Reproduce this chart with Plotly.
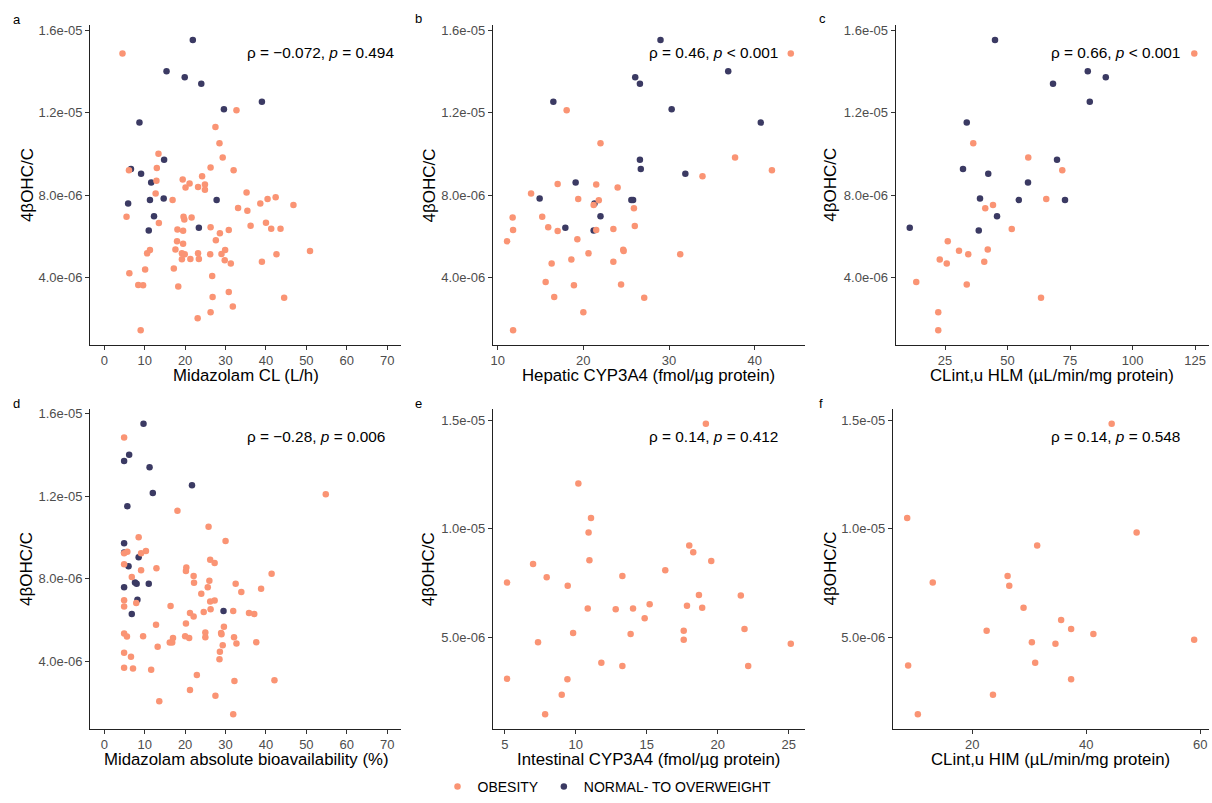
import plotly.graph_objects as go

# ---------------- DATA (values in units; y values are ×1e-6) ----------------
# Panel a: Midazolam CL (L/h)
a_nor_x = [21.9, 15.4, 19.9, 24.0, 39.0, 29.6, 8.7, 6.6, 14.8, 9.1, 11.6, 5.9, 11.3, 14.7, 27.8, 12.3, 11.0, 23.4]
a_nor_y = [15.52, 14.0, 13.71, 13.40, 12.53, 12.16, 11.52, 9.27, 9.71, 9.04, 8.61, 7.59, 7.76, 7.84, 7.76, 6.98, 6.29, 6.42]
a_obe_x = [4.5, 32.7, 27.5, 28.5, 13.4, 29.3, 13.0, 6.1, 26.3, 32.0, 24.2, 19.4, 12.9, 21.1, 24.9, 20.1, 23.2, 24.9,
           12.7, 35.2, 16.9, 42.4, 40.4, 38.6, 46.8, 33.1, 35.4, 5.5, 19.6, 21.6, 19.8, 13.5, 40.0, 36.2, 26.3, 41.3,
           43.6, 18.1, 19.5, 30.8, 28.6, 18.0, 27.6, 19.5, 11.3, 17.6, 29.9, 50.9, 10.6, 19.2, 19.9, 23.2, 26.2, 29.0,
           42.6, 19.2, 21.3, 23.4, 29.8, 31.3, 39.0, 17.2, 10.1, 6.2, 26.7, 8.4, 9.6, 18.3, 30.8, 26.8, 44.5, 31.8,
           26.3, 23.1, 9.0]
a_obe_y = [14.87, 12.11, 11.30, 10.52, 10.01, 9.83, 9.31, 9.21, 9.34, 9.21, 8.92, 8.76, 8.70, 8.56, 8.51, 8.37, 8.40, 8.26,
           8.08, 8.13, 7.76, 7.90, 7.81, 7.59, 7.52, 7.38, 7.25, 6.95, 6.95, 6.92, 6.82, 6.65, 6.66, 6.52, 6.45, 6.37,
           6.37, 6.33, 6.28, 6.31, 6.15, 5.77, 5.82, 5.64, 5.34, 5.37, 5.34, 5.29, 5.18, 5.18, 5.13, 5.18, 5.13, 5.15,
           5.13, 4.89, 4.91, 4.91, 4.84, 4.69, 4.77, 4.45, 4.40, 4.21, 4.08, 3.65, 3.63, 3.57, 3.31, 3.06, 3.03, 2.60,
           2.33, 2.04, 1.45]

# Panel b: Hepatic CYP3A4 (fmol/µg protein)
b_nor_x = [29.0, 26.05, 26.6, 36.9, 16.5, 30.3, 40.7, 26.6, 26.7, 31.9, 19.1, 14.9, 25.8, 25.6, 21.3, 22.0, 17.9, 21.2]
b_nor_y = [15.52, 13.71, 13.40, 14.0, 12.53, 12.16, 11.52, 9.71, 9.27, 9.04, 8.61, 7.84, 7.76, 7.76, 7.60, 6.98, 6.42, 6.29]
b_obe_x = [44.2, 18.05, 22.0, 37.7, 42.0, 33.9, 17.0, 21.5, 24.0, 13.9, 19.4, 21.8, 21.2, 25.9, 11.75, 15.2, 15.9, 26.0,
           11.8, 17.0, 21.5, 23.5, 11.1, 19.3, 24.65, 24.7, 20.6, 31.3, 18.6, 16.3, 23.5, 15.6, 18.9, 24.4, 16.6, 27.1,
           20.0, 11.8]
b_obe_y = [14.87, 12.11, 10.52, 9.83, 9.21, 8.92, 8.54, 8.51, 8.37, 8.08, 7.81, 7.75, 7.52, 7.36, 6.92, 6.95, 6.44, 6.50,
           6.31, 6.26, 6.31, 6.36, 5.77, 5.86, 5.35, 5.29, 5.18, 5.13, 4.88, 4.69, 4.77, 3.79, 3.63, 3.67, 3.06, 3.03,
           2.33, 1.45]

# Panel c: CLint,u HLM (µL/min/mg protein)
c_nor_x = [45.0, 82.1, 89.3, 68.2, 82.9, 33.7, 69.8, 32.2, 42.3, 58.2, 39.0, 54.5, 73.0, 45.8, 10.9, 38.5]
c_nor_y = [15.52, 14.0, 13.71, 13.40, 12.53, 11.52, 9.71, 9.27, 9.04, 8.61, 7.84, 7.76, 7.76, 6.98, 6.42, 6.29]
c_obe_x = [124.7, 36.3, 58.3, 71.9, 65.5, 44.2, 41.1, 51.7, 26.1, 30.6, 42.1, 34.3, 22.9, 25.7, 40.7, 13.5, 33.7, 63.4,
           22.3, 22.3]
c_obe_y = [14.87, 10.52, 9.83, 9.21, 7.81, 7.52, 7.36, 6.36, 5.77, 5.31, 5.37, 5.13, 4.88, 4.69, 4.77, 3.79, 3.67, 3.03,
           2.33, 1.45]

# Panel d: Midazolam absolute bioavailability (%)
d_nor_x = [9.7, 6.15, 4.9, 11.2, 21.7, 12.0, 5.7, 4.9, 4.9, 8.5, 6.0, 4.9, 7.6, 8.0, 11.0, 8.2, 6.8, 29.5]
d_nor_y = [15.52, 14.01, 13.71, 13.40, 12.53, 12.16, 11.52, 9.72, 9.27, 9.04, 8.61, 7.59, 7.82, 7.76, 7.76, 6.98, 6.29, 6.44]
d_obe_x = [4.9, 54.8, 18.1, 25.8, 8.5, 30.0, 10.3, 5.7, 4.9, 9.1, 26.2, 27.3, 4.9, 12.9, 20.3, 9.1, 20.2, 6.8, 22.1,
           41.4, 26.0, 22.2, 32.5, 25.6, 38.8, 33.9, 24.0, 4.9, 7.9, 27.3, 26.2, 4.9, 16.4, 26.3, 21.2, 22.1, 24.6,
           31.9, 35.8, 37.1, 12.8, 20.2, 29.6, 4.9, 5.6, 9.6, 20.0, 21.0, 25.0, 25.0, 28.9, 29.0, 32.1, 17.0, 16.2,
           16.8, 29.3, 32.7, 37.6, 13.2, 28.6, 4.9, 6.6, 28.5, 4.9, 7.1, 11.6, 22.9, 32.2, 42.1, 21.2, 13.6, 27.5, 31.9]
d_obe_y = [14.85, 12.10, 11.30, 10.52, 10.01, 9.83, 9.34, 9.31, 9.23, 9.23, 8.92, 8.76, 8.70, 8.51, 8.54, 8.41, 8.37,
           8.08, 8.13, 8.24, 7.90, 7.81, 7.76, 7.59, 7.52, 7.36, 7.27, 6.96, 6.82, 6.95, 6.90, 6.65, 6.68, 6.52, 6.34,
           6.17, 6.39, 6.44, 6.34, 6.29, 5.77, 5.83, 5.67, 5.34, 5.20, 5.21, 5.21, 5.13, 5.39, 5.16, 5.37, 5.31, 5.16,
           5.13, 4.91, 4.91, 4.77, 4.86, 4.92, 4.70, 4.46, 4.41, 4.22, 4.10, 3.68, 3.65, 3.59, 3.33, 3.04, 3.08, 2.61,
           2.06, 2.33, 1.43]

# Panel e: Intestinal CYP3A4 (fmol/µg protein) — obesity only
e_obe_x = [19.16, 10.18, 11.07, 10.9, 17.99, 18.27, 19.54, 10.96, 6.99, 16.3, 7.95, 13.28, 5.16, 9.43, 18.67, 21.62,
           15.2, 17.83, 10.84, 12.81, 14.03, 18.9, 14.85, 9.81, 13.86, 17.6, 21.88, 17.6, 7.34, 25.14, 11.8, 13.28,
           22.14, 5.16, 9.41, 9.01, 7.84]
e_obe_y = [14.85, 12.09, 10.5, 9.83, 9.23, 8.92, 8.52, 8.55, 8.38, 8.09, 7.77, 7.82, 7.52, 7.38, 6.95, 6.92, 6.52, 6.45,
           6.33, 6.29, 6.33, 6.36, 5.88, 5.2, 5.15, 5.30, 5.38, 4.89, 4.77, 4.70, 3.82, 3.67, 3.68, 3.09, 3.06, 2.35, 1.45]

# Panel f: CLint,u HIM (µL/min/mg protein) — obesity only
f_obe_x = [44.46, 8.56, 48.84, 31.38, 13.05, 26.19, 26.48, 28.99, 35.59, 37.34, 22.51, 41.25, 30.45, 34.59, 58.94,
           8.73, 31.03, 37.34, 23.62, 10.43]
f_obe_y = [14.85, 10.5, 9.83, 9.23, 7.52, 7.82, 7.38, 6.36, 5.79, 5.38, 5.30, 5.15, 4.77, 4.70, 4.89, 3.70, 3.82, 3.06,
           2.35, 1.45]

panel_letters = ["a", "b", "c", "d", "e", "f"]
x_titles = ["Midazolam CL (L/h)", "Hepatic CYP3A4 (fmol/µg protein)", "CLint,u HLM (µL/min/mg protein)",
            "Midazolam absolute bioavailability (%)", "Intestinal CYP3A4 (fmol/µg protein)",
            "CLint,u HIM (µL/min/mg protein)"]
y_title = "4βOHC/C"
stats = ["ρ = \u22120.072, <i>p</i> = 0.494", "ρ = 0.46, <i>p</i> &lt; 0.001", "ρ = 0.66, <i>p</i> &lt; 0.001",
         "ρ = \u22120.28, <i>p</i> = 0.006", "ρ = 0.14, <i>p</i> = 0.412", "ρ = 0.14, <i>p</i> = 0.548"]
x_ticks = [[0, 10, 20, 30, 40, 50, 60, 70], [10, 20, 30, 40], [25, 50, 75, 100, 125],
           [0, 10, 20, 30, 40, 50, 60, 70], [5, 10, 15, 20, 25], [20, 40, 60]]
y_ticks_top = [4.0e-06, 8.0e-06, 1.2e-05, 1.6e-05]
y_ticklabels_top = ["4.0e-06", "8.0e-06", "1.2e-05", "1.6e-05"]
y_ticks_bot = [5.0e-06, 1.0e-05, 1.5e-05]
y_ticklabels_bot = ["5.0e-06", "1.0e-05", "1.5e-05"]
groups = ["OBESITY", "NORMAL- TO OVERWEIGHT"]

# ---------------- STYLE / LAYOUT ----------------
W, H = 1212, 803
COL_OBE = "#FA9474"
COL_NOR = "#3B3A63"
FONT = "Arial, 'Liberation Sans', sans-serif"

panels = [
    (a_obe_x, a_obe_y, a_nor_x, a_nor_y),
    (b_obe_x, b_obe_y, b_nor_x, b_nor_y),
    (c_obe_x, c_obe_y, c_nor_x, c_nor_y),
    (d_obe_x, d_obe_y, d_nor_x, d_nor_y),
    (e_obe_x, e_obe_y, None, None),
    (f_obe_x, f_obe_y, None, None),
]
fixed_xlim = {0: (0, 70), 3: (0, 70)}

# pixel boxes of plotting areas: (left, right, top, bottom)
boxes = [(88.3, 400, 22.7, 345.7), (491.7, 804.3, 22.7, 345.7), (895, 1208.5, 22.7, 345.7),
         (88.3, 400, 410.7, 734), (491.7, 804.3, 410.7, 734), (892.3, 1208.5, 410.7, 734)]
letter_pos = [(9, 17), (412, 16), (816, 16), (9, 405), (412, 405), (816, 405)]
stat_pos = [(243, 50), (646, 50), (1049, 50), (243, 438), (646, 438), (1049, 438)]

fig = go.Figure()
annotations = []
layout = {}


def expand(lo, hi, f=0.05):
    d = (hi - lo) * f
    return [lo - d, hi + d]


for i, (ox, oy, nx, ny) in enumerate(panels):
    k = "" if i == 0 else str(i + 1)
    xa, ya = "x" + k, "y" + k
    oy_s = [v * 1e-6 for v in oy]
    allx = list(ox)
    ally = list(oy_s)
    if nx is not None:
        ny_s = [v * 1e-6 for v in ny]
        allx += nx
        ally += ny_s
        fig.add_trace(go.Scatter(x=nx, y=ny_s, mode="markers", xaxis=xa, yaxis=ya,
                                 name=groups[1], legendgroup="nor", showlegend=(i == 0), legendrank=2,
                                 marker=dict(color=COL_NOR, size=6.5, line=dict(width=0)),
                                 hoverinfo="skip"))
    fig.add_trace(go.Scatter(x=ox, y=oy_s, mode="markers", xaxis=xa, yaxis=ya,
                             name=groups[0], legendgroup="obe", showlegend=(i == 0), legendrank=1,
                             marker=dict(color=COL_OBE, size=6.5, line=dict(width=0)),
                             hoverinfo="skip"))

    if i in fixed_xlim:
        xr = expand(*fixed_xlim[i])
    else:
        xr = expand(min(allx), max(allx))
    yr = expand(min(ally), max(ally))

    l, r, t, b = boxes[i]
    axis_common = dict(showline=True, linecolor="#222222", linewidth=1, showgrid=False, zeroline=False,
                       ticks="outside", ticklen=4, tickwidth=1, tickcolor="#333333",
                       tickfont=dict(family=FONT, size=13, color="#4D4D4D"), fixedrange=True)
    layout["xaxis" + k] = dict(axis_common, domain=[l / W, r / W], range=xr, anchor=ya,
                               tickvals=x_ticks[i], ticktext=[str(v) for v in x_ticks[i]])
    if i <= 3:
        tv, tt = y_ticks_top, y_ticklabels_top
    else:
        tv, tt = y_ticks_bot, y_ticklabels_bot
    layout["yaxis" + k] = dict(axis_common, domain=[1 - b / H, 1 - t / H], range=yr, anchor=xa,
                               tickvals=tv, ticktext=tt)

    # panel letter
    lx, ly = letter_pos[i]
    annotations.append(dict(text=panel_letters[i], x=lx / W, y=1 - ly / H, xref="paper", yref="paper",
                            xanchor="left", yanchor="middle", showarrow=False,
                            font=dict(family=FONT, size=13, color="black")))
    # stats label
    sx, sy = stat_pos[i]
    annotations.append(dict(text=stats[i], x=sx / W, y=1 - sy / H, xref="paper", yref="paper",
                            xanchor="left", yanchor="middle", showarrow=False,
                            font=dict(family=FONT, size=15.4, color="black")))
    # x title
    annotations.append(dict(text=x_titles[i], x=(l + r) / 2 / W, y=1 - (b + 31) / H, xref="paper",
                            yref="paper", xanchor="center", yanchor="middle", showarrow=False,
                            font=dict(family=FONT, size=16.8, color="black")))
    # y title
    ytx = [25, 428, 830, 25, 428, 830][i]
    annotations.append(dict(text=y_title, x=ytx / W, y=1 - (t + b) / 2 / H, xref="paper", yref="paper",
                            xanchor="center", yanchor="middle", textangle=-90, showarrow=False,
                            font=dict(family=FONT, size=17, color="black")))

fig.update_layout(
    width=W, height=H,
    margin=dict(l=0, r=0, t=0, b=0),
    paper_bgcolor="white", plot_bgcolor="white",
    showlegend=True,
    legend=dict(orientation="h", x=0.5, xanchor="center", y=1 - 793 / H, yanchor="middle",
                font=dict(family=FONT, size=14, color="black"), bgcolor="rgba(0,0,0,0)"),
    annotations=annotations,
    **layout,
)

fig.write_html("out.html")
